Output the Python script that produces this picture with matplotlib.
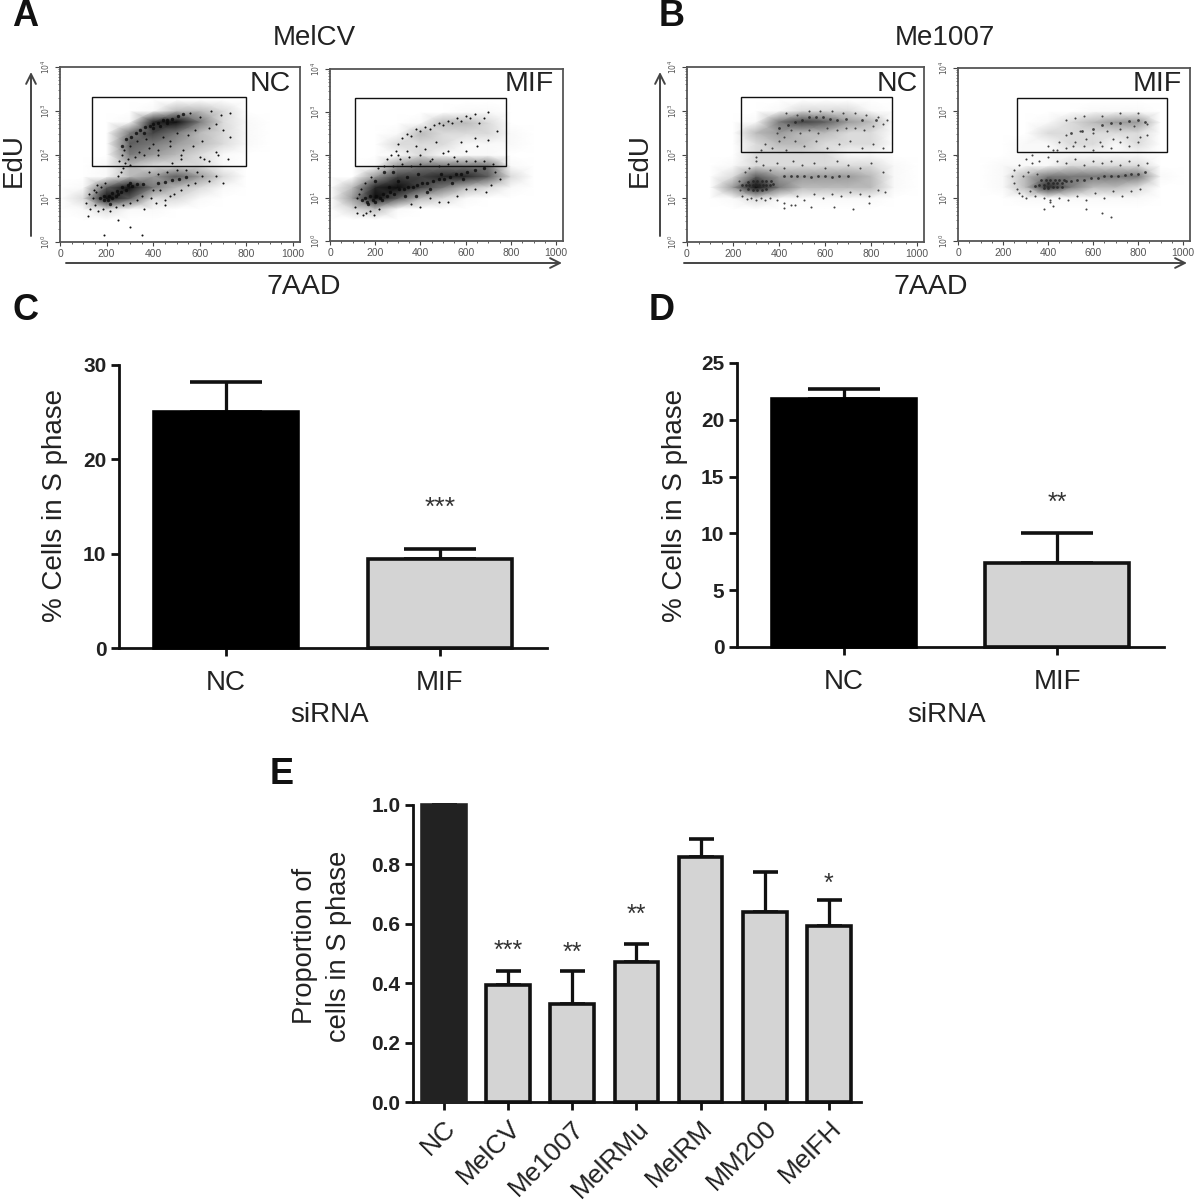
import numpy as np
import matplotlib
matplotlib.use("Agg")
import matplotlib.pyplot as plt
from matplotlib.patches import Rectangle
from matplotlib.colors import LinearSegmentedColormap
from matplotlib.ticker import FixedLocator, NullFormatter, LogLocator

plt.rcParams['font.family'] = ['Liberation Sans', 'DejaVu Sans']
W, H = 1200, 1202
INK = '#111111'
GREY = '#d4d4d4'

# ---------- bar data ----------
c_cats = ['NC', 'MIF']
c_vals = [25.0, 9.4]
c_tops = [28.2, 10.5]
c_sig = ['', '***']
c_sig_y = [0, 14.9]
c_ticks = [0, 10, 20, 30]

d_cats = ['NC', 'MIF']
d_vals = [21.8, 7.4]
d_tops = [22.7, 10.05]
d_sig = ['', '**']
d_sig_y = [0, 12.65]
d_ticks = [0, 5, 10, 15, 20, 25]

e_cats = ['NC', 'MelCV', 'Me1007', 'MelRMu', 'MelRM', 'MM200', 'MelFH']
e_vals = [1.0, 0.395, 0.33, 0.47, 0.825, 0.64, 0.592]
e_tops = [1.0, 0.44, 0.44, 0.533, 0.885, 0.775, 0.68]
e_sig = ['', '***', '**', '**', '', '', '*']
e_sig_y = [0, 0.508, 0.503, 0.63, 0, 0, 0.735]
e_ticks = [0.0, 0.2, 0.4, 0.6, 0.8, 1.0]

# ---------- flow cytometry: density read by eye (0 = empty, 9 = solid black) ----------
dens_x = [0, 100, 200, 300, 400, 500, 600, 700, 800, 900, 1000]
dens_y = [0.25, 0.5, 0.75, 1.0, 1.25, 1.5, 1.75, 2.0, 2.25, 2.5, 2.75, 3.0, 3.25]
a_nc_density = [
    [0, 0, 0, 0, 0, 0, 0, 0, 0, 0, 0],
    [0, 0, 0, 0, 0, 0, 0, 0, 0, 0, 0],
    [0, 1, 2, 1, 1, 0, 0, 0, 0, 0, 0],
    [0, 2, 9, 6, 2, 2, 1, 0, 0, 0, 0],
    [0, 1, 6, 9, 5, 3, 2, 1, 0, 0, 0],
    [0, 0, 1, 3, 4, 6, 4, 2, 0, 0, 0],
    [0, 0, 1, 3, 2, 2, 2, 1, 0, 0, 0],
    [0, 0, 0, 5, 4, 3, 2, 1, 0, 0, 0],
    [0, 0, 0, 6, 5, 4, 3, 2, 1, 0, 0],
    [0, 0, 0, 5, 7, 5, 3, 2, 1, 0, 0],
    [0, 0, 0, 1, 8, 9, 5, 2, 1, 0, 0],
    [0, 0, 0, 0, 1, 3, 3, 2, 0, 0, 0],
    [0, 0, 0, 0, 0, 0, 0, 0, 0, 0, 0],
]
a_mif_density = [
    [0, 0, 0, 0, 0, 0, 0, 0, 0, 0, 0],
    [0, 0, 0, 0, 0, 0, 0, 0, 0, 0, 0],
    [0, 2, 3, 1, 0, 0, 0, 0, 0, 0, 0],
    [0, 4, 9, 6, 3, 2, 1, 0, 0, 0, 0],
    [0, 3, 8, 9, 7, 5, 3, 2, 1, 0, 0],
    [0, 0, 4, 7, 7, 8, 8, 6, 2, 0, 0],
    [0, 0, 1, 4, 5, 5, 5, 5, 1, 0, 0],
    [0, 0, 0, 1, 2, 1, 1, 1, 0, 0, 0],
    [0, 0, 0, 2, 2, 2, 1, 1, 1, 0, 0],
    [0, 0, 0, 1, 3, 2, 2, 2, 1, 0, 0],
    [0, 0, 0, 0, 1, 3, 3, 2, 0, 0, 0],
    [0, 0, 0, 0, 0, 0, 1, 1, 0, 0, 0],
    [0, 0, 0, 0, 0, 0, 0, 0, 0, 0, 0],
]
b_nc_density = [
    [0, 0, 0, 0, 0, 0, 0, 0, 0, 0, 0],
    [0, 0, 0, 0, 0, 0, 0, 0, 0, 0, 0],
    [0, 0, 0, 0, 0, 0, 0, 0, 0, 0, 0],
    [0, 0, 1, 2, 1, 1, 1, 1, 1, 0, 0],
    [0, 0, 4, 9, 5, 3, 3, 3, 3, 1, 0],
    [0, 0, 2, 6, 4, 4, 4, 4, 3, 1, 0],
    [0, 0, 1, 2, 2, 2, 2, 2, 2, 1, 0],
    [0, 0, 0, 2, 2, 2, 2, 1, 1, 0, 0],
    [0, 0, 0, 2, 3, 3, 2, 2, 2, 0, 0],
    [0, 0, 0, 3, 4, 3, 3, 2, 2, 0, 0],
    [0, 0, 0, 1, 5, 7, 6, 4, 3, 0, 0],
    [0, 0, 0, 0, 1, 2, 2, 2, 1, 0, 0],
    [0, 0, 0, 0, 0, 0, 0, 0, 0, 0, 0],
]
b_mif_density = [
    [0, 0, 0, 0, 0, 0, 0, 0, 0, 0, 0],
    [0, 0, 0, 0, 0, 0, 0, 0, 0, 0, 0],
    [0, 0, 0, 0, 0, 0, 0, 0, 0, 0, 0],
    [0, 0, 0, 1, 1, 1, 1, 1, 1, 0, 0],
    [0, 0, 1, 3, 8, 5, 3, 3, 2, 0, 0],
    [0, 0, 1, 3, 5, 5, 5, 5, 5, 1, 0],
    [0, 0, 1, 1, 1, 2, 2, 2, 2, 0, 0],
    [0, 0, 0, 1, 1, 1, 1, 1, 1, 0, 0],
    [0, 0, 0, 1, 1, 2, 2, 1, 2, 0, 0],
    [0, 0, 0, 0, 2, 2, 2, 2, 2, 0, 0],
    [0, 0, 0, 0, 1, 2, 3, 4, 4, 0, 0],
    [0, 0, 0, 0, 0, 0, 1, 1, 1, 0, 0],
    [0, 0, 0, 0, 0, 0, 0, 0, 0, 0, 0],
]

# ---------- flow cytometry: single events, x = 7AAD, y = log10(EdU), read by eye ----------
a_nc_core_x = [170,190,190,205,210,225,225,240,245,260,265,285,290,310,330,355,420,450,480,510,540,
               265,285,305,325,345,365,385,400,420,440,460,480,505,530,400,430,360,460,215,250,300]
a_nc_core_y = [1.0,.95,1.05,.95,1.05,1.0,1.12,1.05,1.17,1.15,1.25,1.2,1.3,1.28,1.33,1.33,1.35,1.38,1.42,1.45,1.48,
               2.2,2.35,2.4,2.5,2.55,2.62,2.65,2.7,2.72,2.78,2.8,2.82,2.87,2.92,2.6,2.65,2.5,2.72,.88,1.1,1.35]
a_nc_dots_x = [110,125,130,145,150,160,165,175,185,120,140,155,195,215,240,270,300,330,360,390,410,430,450,470,490,
               520,550,580,610,640,670,700,380,420,460,500,540,590,250,260,270,280,290,300,320,340,360,380,400,
               420,440,470,500,520,550,580,610,640,670,700,730,560,600,650,690,730,255,265,275,300,330,370,420,470,
               530,570,620,670,190,350,300,250,480,520,600,640,680,720,350,400,450]
a_nc_dots_y = [.9,1.1,.75,1.2,.85,1.3,.7,1.25,.75,.6,1.0,1.15,1.35,.7,.8,.85,.9,.95,.75,1.0,.9,1.2,.85,1.05,1.1,
               1.2,1.3,1.35,1.5,1.4,1.5,1.35,1.6,1.55,1.6,1.65,1.65,1.6,1.5,1.6,1.7,1.8,1.9,1.75,1.95,2.05,2.0,2.15,2.25,
               2.1,2.4,2.2,2.5,2.0,2.45,2.55,2.3,2.6,2.7,2.55,2.4,2.95,2.85,3.0,2.9,2.95,1.85,2.0,2.1,2.2,2.3,2.35,2.0,2.3,
               2.1,2.2,1.9,2.05,.15,.15,.35,.5,1.8,1.9,1.95,1.85,2.0,1.9,1.05,1.2,.95]

a_mif_core_x = [140,155,165,175,190,205,220,235,250,265,285,305,325,345,365,385,405,430,455,480,505,530,555,580,605,
                170,200,230,260,300,340,390,440,490,540,590,640,680,200,240,280,330,380,430]
a_mif_core_y = [.95,1.0,.9,1.05,.95,1.05,1.0,1.1,1.05,1.15,1.1,1.2,1.2,1.25,1.25,1.3,1.35,1.35,1.4,1.45,1.45,1.5,1.55,1.55,1.6,
                .85,.9,.95,1.25,1.4,1.5,1.55,1.2,1.55,1.35,1.45,1.65,1.7,1.4,1.6,1.6,1.05,1.05,1.15]
a_mif_dots_x = [110,120,130,145,160,175,195,215,120,135,155,180,210,240,280,320,360,400,440,480,520,560,600,640,680,720,
                710,730,750,690,640,600,560,520,480,440,400,360,300,320,340,360,380,400,420,440,460,480,500,520,540,560,580,
                600,620,640,660,680,700,300,340,380,420,470,520,580,640,700,740,310,350,400,450,500,550,600,650,250,270,290]
a_mif_dots_y = [.8,.65,1.1,.6,.65,.7,.6,.75,1.0,1.2,1.35,1.5,1.7,1.75,1.75,1.8,1.75,1.8,1.85,1.75,1.8,1.85,1.85,1.85,1.85,1.8,
                1.3,1.6,1.45,1.15,1.2,1.2,1.05,.9,.9,1.0,.8,.85,2.25,2.4,2.5,2.45,2.6,2.55,2.65,2.6,2.7,2.75,2.7,2.8,2.75,2.85,2.8,
                2.9,2.85,2.95,2.75,2.85,3.0,2.0,2.1,2.2,2.15,2.3,2.1,2.3,2.4,2.35,2.55,1.9,1.95,2.0,1.9,2.05,1.95,2.1,2.2,1.9,2.0,2.1]

b_nc_core_x = [240,255,270,285,300,315,330,345,360,375,265,285,305,325,345,365,265,285,305,325,345,
               420,450,480,510,540,570,600,630,660,700,400,440,470,500,530,560,590,620,650,690,760,820]
b_nc_core_y = [1.3,1.3,1.3,1.3,1.3,1.3,1.3,1.3,1.3,1.33,1.38,1.4,1.4,1.4,1.4,1.4,1.22,1.2,1.2,1.2,1.22,
               1.5,1.5,1.52,1.5,1.48,1.5,1.5,1.48,1.5,1.5,2.6,2.68,2.75,2.8,2.85,2.85,2.85,2.82,2.8,2.82,2.8,2.78]
b_nc_dots_x = [225,230,240,260,280,300,320,340,360,390,420,450,480,510,550,590,630,670,710,750,790,830,860,
               250,270,300,330,360,390,420,460,500,550,600,650,700,750,800,850,300,320,340,370,400,430,470,510,560,610,660,
               710,760,810,850,390,420,450,490,530,570,610,650,690,730,770,810,850,430,480,530,580,630,680,730,780,830,870,
               420,540,720,470,640,790]
b_nc_dots_y = [1.4,1.2,1.05,.98,1.0,.95,1.0,.95,1.0,.95,.9,.85,1.05,.95,1.1,1.0,1.1,1.05,1.15,1.1,1.05,1.2,1.15,
               1.6,1.7,1.85,1.75,1.65,1.8,1.7,1.85,1.75,1.8,1.7,1.85,1.75,1.7,1.8,1.6,1.95,2.1,2.25,2.15,2.3,2.1,2.3,2.2,2.3,2.15,2.25,
               2.3,2.15,2.25,2.15,2.5,2.4,2.55,2.5,2.55,2.5,2.6,2.55,2.6,2.6,2.55,2.65,2.7,2.95,2.9,3.0,3.0,3.0,2.95,2.95,2.9,2.85,2.8,
               .78,.8,.75,.85,.8,.9]

b_mif_core_x = [340,360,380,400,420,440,460,480,500,370,390,410,430,450,470,380,400,420,440,460,
                530,560,590,620,650,680,710,740,770,800,830,600,640,680,720,760,800,830,500,550]
b_mif_core_y = [1.28,1.3,1.3,1.33,1.33,1.35,1.35,1.38,1.38,1.4,1.42,1.42,1.42,1.42,1.42,1.22,1.22,1.25,1.25,1.25,
                1.42,1.4,1.45,1.45,1.5,1.5,1.5,1.52,1.55,1.55,1.6,2.6,2.68,2.72,2.72,2.78,2.8,2.75,2.5,2.55]
b_mif_dots_x = [240,250,260,270,285,300,320,340,250,270,290,310,330,350,380,410,450,490,530,570,610,650,690,730,770,810,
                300,330,360,400,440,480,520,560,600,640,680,720,760,800,840,420,450,480,510,540,570,600,630,660,690,720,750,780,810,840,
                400,440,480,520,560,600,640,680,720,760,800,840,480,520,560,640,720,800,420,570,640,680,380,410]
b_mif_dots_y = [1.5,1.35,1.2,1.1,1.05,1.0,1.15,1.05,1.65,1.75,1.5,1.6,1.8,1.55,1.0,.95,1.0,.95,1.05,.95,1.1,1.0,1.15,1.05,1.15,1.2,
                1.9,2.0,1.85,1.95,1.85,1.8,1.9,1.75,1.85,1.8,1.85,1.75,1.85,1.75,1.8,2.1,2.3,2.45,2.2,2.55,2.35,2.5,2.3,2.55,2.35,2.6,2.4,2.65,2.4,2.7,
                2.2,2.1,2.15,2.3,2.2,2.1,2.2,2.15,2.3,2.2,2.3,2.45,2.8,2.85,2.9,2.9,2.95,2.95,.8,.75,.65,.55,.75,.9]

# gate boxes: 7AAD range, log10 EdU range
a_nc_gate = [139, 797, 1.737, 3.314]
a_mif_gate = [110, 780, 1.737, 3.314]
b_nc_gate = [234, 892, 2.057, 3.314]
b_mif_gate = [260, 930, 2.057, 3.314]
flow_xticks = [0, 200, 400, 600, 800, 1000]
flow_yticks = [1, 10, 100, 1000, 10000]
flow_ylabels = ['$10^{0}$', '$10^{1}$', '$10^{2}$', '$10^{3}$', '$10^{4}$']

dens_cmap = LinearSegmentedColormap.from_list(
    'dens', [(0.0, '#ffffff'), (0.09, '#ffffff'), (0.3, '#c4c4c4'), (0.6, '#6c6c6c'), (1.0, '#0c0c0c')])


def px_axes(l, t, r, b):
    return fig.add_axes([l / W, 1 - b / H, (r - l) / W, (b - t) / H])


fig = plt.figure(figsize=(W / 100, H / 100), dpi=100)
ov = fig.add_axes([0, 0, 1, 1], zorder=5)
ov.set_xlim(0, W)
ov.set_ylim(H, 0)
ov.axis('off')


def flow(box, dens, cx, cy, dx, dy, gate, tag, tag_xy, core_c, core_s, dot_c):
    ax = px_axes(*box)
    ax.set_xlim(0, 1030)
    ax.set_yscale('log')
    ax.set_ylim(1, 1e4)
    for s in ax.spines.values():
        s.set_color('#555555')
        s.set_linewidth(1.3)
    ax.pcolormesh(dens_x, 10 ** np.array(dens_y), np.array(dens), shading='gouraud',
                  cmap=dens_cmap, vmin=0, vmax=9, zorder=1)
    ax.scatter(dx, 10 ** np.array(dy), s=2.2, c=dot_c, linewidths=0, zorder=2)
    ax.scatter(cx, 10 ** np.array(cy), s=core_s, c=core_c, linewidths=0, alpha=0.8, zorder=2)
    g = gate
    ax.add_patch(Rectangle((g[0], 10 ** g[2]), g[1] - g[0], 10 ** g[3] - 10 ** g[2],
                           fill=False, ec='#111111', lw=1.0, zorder=4))
    ax.set_xticks(flow_xticks)
    ax.set_xticklabels([str(v) for v in flow_xticks], fontsize=7.5, color='#555555')
    ax.xaxis.set_minor_locator(FixedLocator(np.arange(0, 1001, 50)))
    ax.tick_params(axis='x', which='major', length=3, width=0.8, color='#444444', pad=2)
    ax.tick_params(axis='x', which='minor', length=1.5, width=0.6, color='#444444')
    ax.set_yticks(flow_yticks)
    ax.set_yticklabels(flow_ylabels, fontsize=5.5, color='#555555', rotation=90, va='center')
    ax.yaxis.set_minor_locator(LogLocator(base=10, subs=np.arange(2, 10), numticks=12))
    ax.yaxis.set_minor_formatter(NullFormatter())
    ax.tick_params(axis='y', which='major', length=3.5, width=0.8, color='#444444', pad=2)
    ax.tick_params(axis='y', which='minor', length=1.8, width=0.5, color='#444444')
    ov.text(*tag_xy, tag, fontsize=20.5, color='#222222', ha='center', va='center')


flow((60, 67, 300, 242), a_nc_density, a_nc_core_x, a_nc_core_y, a_nc_dots_x, a_nc_dots_y, a_nc_gate, 'NC', (270, 84), '#0a0a0a', 6, '#111111')
flow((330, 69, 563, 241), a_mif_density, a_mif_core_x, a_mif_core_y, a_mif_dots_x, a_mif_dots_y, a_mif_gate, 'MIF', (529, 84), '#0a0a0a', 6, '#111111')
flow((687, 67, 924, 242), b_nc_density, b_nc_core_x, b_nc_core_y, b_nc_dots_x, b_nc_dots_y, b_nc_gate, 'NC', (897, 84), '#222222', 4, '#444444')
flow((958, 68, 1190, 241), b_mif_density, b_mif_core_x, b_mif_core_y, b_mif_dots_x, b_mif_dots_y, b_mif_gate, 'MIF', (1157, 84), '#222222', 4, '#444444')


def bars(box, cats, vals, tops, sig, sig_y, yticks, ymax, lim, width, fc, rot, lw, cap, sig_fs, cat_pad):
    ax = px_axes(*box)
    ax.set_xlim(*lim)
    ax.set_ylim(0, ymax)
    ax.patch.set_alpha(0)
    x = np.arange(len(cats))
    errs = np.array(tops) - np.array(vals)
    ax.bar(x, vals, width=width, color=fc, edgecolor=[c if c != GREY else INK for c in fc],
           linewidth=lw, zorder=3, clip_on=False)
    ax.errorbar(x, vals, yerr=[np.zeros(len(x)), errs], fmt='none', ecolor=INK, elinewidth=lw * 0.9,
                capsize=cap, capthick=lw, zorder=2, clip_on=False)
    for s in ('top', 'right'):
        ax.spines[s].set_visible(False)
    for s in ('left', 'bottom'):
        ax.spines[s].set_linewidth(2.0)
        ax.spines[s].set_color(INK)
    ax.set_yticks(yticks)
    ax.set_yticklabels([('%.1f' % v if ymax <= 1 else str(v)) for v in yticks], fontweight='bold',
                       fontsize=15, color='#222222')
    ax.set_xticks(x)
    if rot:
        ax.set_xticklabels(cats, rotation=45, ha='right', rotation_mode='anchor', fontsize=19, color='#222222')
    else:
        ax.set_xticklabels(cats, fontsize=20, color='#222222')
    ax.tick_params(axis='both', length=6, width=2.0, color=INK, pad=3)
    ax.tick_params(axis='x', pad=cat_pad)
    for xi, y, m in zip(x, sig_y, sig):
        if m:
            ax.text(xi, y, m, ha='center', va='center', fontsize=sig_fs, color='#333333')
    return ax


bars((119, 365, 547, 648), c_cats, c_vals, c_tops, c_sig, c_sig_y, c_ticks, 30, (-0.5, 1.5), 0.675,
     ['#000000', GREY], False, 2.6, 26, 19, 10)
bars((737, 363, 1164, 647), d_cats, d_vals, d_tops, d_sig, d_sig_y, d_ticks, 25, (-0.5, 1.5), 0.675,
     ['#000000', GREY], False, 2.6, 26, 18, 10)
bars((413, 805, 861, 1102), e_cats, e_vals, e_tops, e_sig, e_sig_y, e_ticks, 1.0, (-0.48, 6.5), 0.68,
     ['#222222'] + [GREY] * 6, True, 2.6, 9, 18, 4)

# panel letters and shared captions
for letter, xy in zip('ABCDE', [(25, 16), (672, 16), (26, 310), (662, 310), (282, 774)]):
    ov.text(*xy, letter, fontsize=26, fontweight='bold', color='#111111', ha='center', va='center')
for txt, xy in [('MelCV', (314, 38)), ('Me1007', (945, 38))]:
    ov.text(*xy, txt, fontsize=20, color='#222222', ha='center', va='center')
for txt, xy in [('7AAD', (304, 287)), ('7AAD', (931, 287))]:
    ov.text(*xy, txt, fontsize=20.5, color='#222222', ha='center', va='center')
for xy in [(14, 160), (640, 160)]:
    ov.text(*xy, 'EdU', fontsize=20, color='#222222', ha='center', va='center', rotation=90)
for xy in [(55, 505), (675, 505)]:
    ov.text(*xy, '% Cells in S phase', fontsize=20, color='#222222', ha='center', va='center', rotation=90)
for xy in [(330, 715), (947, 715)]:
    ov.text(*xy, 'siRNA', fontsize=20, color='#222222', ha='center', va='center')
ov.text(322, 946, 'Proportion of\ncells in S phase', fontsize=19.6, color='#222222', ha='center', va='center',
        rotation=90, linespacing=1.39)

# arrows
arrow = dict(arrowstyle='->,head_length=0.7,head_width=0.35', color='#444444', lw=1.4, shrinkA=0, shrinkB=0)
for a, b in [((31, 236), (31, 72)), ((660, 236), (660, 72)), ((66, 263), (562, 263)), ((684, 263), (1187, 263))]:
    ov.annotate('', xy=b, xytext=a, arrowprops=arrow)

fig.savefig('out.png', dpi=100)
